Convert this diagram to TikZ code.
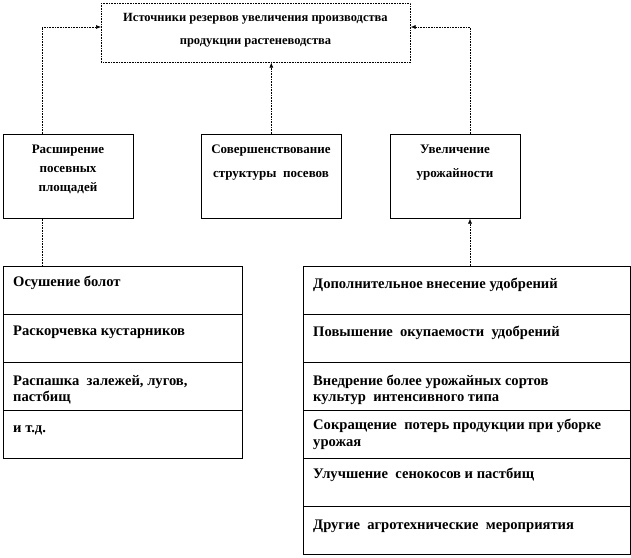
\documentclass[tikz,border=0pt]{standalone}
\usepackage{fontspec}
\setmainfont{Liberation Serif}
\usetikzlibrary{arrows.meta}
\begin{document}
\begin{tikzpicture}[x=1pt,y=-1pt,
  box/.style={draw, line width=0.6pt, inner sep=0pt, anchor=north west},
  topbox/.style={box, densely dotted},
  txt/.style={font=\bfseries\fontsize{13}{15}\selectfont, inner sep=0pt},
  ctxt/.style={txt, anchor=base},
  ttxt/.style={ctxt, font=\bfseries\fontsize{12.5}{15}\selectfont},
  ltxt/.style={txt, anchor=base west, font=\bfseries\fontsize{14.6}{16}\selectfont},
  conn/.style={draw, densely dotted, line width=0.6pt},
  arr/.style={conn, -{Latex[length=5pt,width=4pt]}}]
\useasboundingbox (0,0) rectangle (631,557);
% top box
\node[topbox, minimum width=309pt, minimum height=59pt] (top) at (101,3) {};
\node[ttxt] (t1) at (255.5,21.5) {Источники резервов увеличения производства};
\node[ttxt] (t2) at (255.5,44.5) {продукции растеневодства};
% second row
\node[box, minimum width=130pt, minimum height=84pt] (bL) at (3,134) {};
\node[box, minimum width=140pt, minimum height=84pt] (bM) at (201,134) {};
\node[box, minimum width=130pt, minimum height=84pt] (bR) at (390,134) {};
\node[ctxt] (l1) at (68,153) {Расширение};
\node[ctxt] (l2) at (68,172) {посевных};
\node[ctxt] (l3) at (68,191) {площадей};
\node[ctxt] (m1) at (271,153) {Совершенствование};
\node[ctxt] (m2) at (271,177) {структуры\ \ посевов};
\node[ctxt] (r1) at (455,153) {Увеличение};
\node[ctxt] (r2) at (455,177) {урожайности};
% left list
\node[box, minimum width=239pt, minimum height=47.5pt] (a1) at (3,266) {};
\node[box, minimum width=239pt, minimum height=48.5pt] (a2) at (3,313.5) {};
\node[box, minimum width=239pt, minimum height=48pt] (a3) at (3,362) {};
\node[box, minimum width=239pt, minimum height=48pt] (a4) at (3,410) {};
\node[ltxt] (a1t) at (13,286) {Осушение болот};
\node[ltxt] (a2t) at (13,335.5) {Раскорчевка кустарников};
\node[ltxt] (a3t) at (13,385.5) {Распашка\ \ залежей, лугов,};
\node[ltxt] (a3u) at (13,401) {пастбищ};
\node[ltxt] (a4t) at (13,432.5) {и т.д.};
% right list
\node[box, minimum width=327pt, minimum height=47.5pt] (c1) at (303,266) {};
\node[box, minimum width=327pt, minimum height=48.5pt] (c2) at (303,313.5) {};
\node[box, minimum width=327pt, minimum height=48pt] (c3) at (303,362) {};
\node[box, minimum width=327pt, minimum height=48pt] (c4) at (303,410) {};
\node[box, minimum width=327pt, minimum height=48pt] (c5) at (303,458) {};
\node[box, minimum width=327pt, minimum height=48pt] (c6) at (303,506) {};
\node[ltxt] (c1t) at (313,288) {Дополнительное внесение удобрений};
\node[ltxt] (c2t) at (313,336) {Повышение\ \ окупаемости\ \ удобрений};
\node[ltxt] (c3t) at (313,385) {Внедрение более урожайных сортов};
\node[ltxt] (c3u) at (313,401) {культур\ \ интенсивного типа};
\node[ltxt] (c4t) at (313,429.5) {Сокращение\ \ потерь продукции при уборке};
\node[ltxt] (c4u) at (313,446) {урожая};
\node[ltxt] (c5t) at (313,478.5) {Улучшение\ \ сенокосов и пастбищ};
\node[ltxt] (c6t) at (313,529.5) {Другие\ \ агротехнические\ \ мероприятия};
% connectors
\coordinate (cL) at (42,27);
\coordinate (cR) at (470,27);
\draw[arr] (bL.north -| cL) -- (cL) -- (top.west |- cL);
\draw[arr] (bR.north -| cR) -- (cR) -- (top.east |- cR);
\draw[arr] (bM.north) -- (bM.north |- top.south);
\draw[conn] (bL.south -| cL) -- (a1.north -| cL);
\draw[arr] (c1.north -| cR) -- (bR.south -| cR);
\end{tikzpicture}
\end{document}
